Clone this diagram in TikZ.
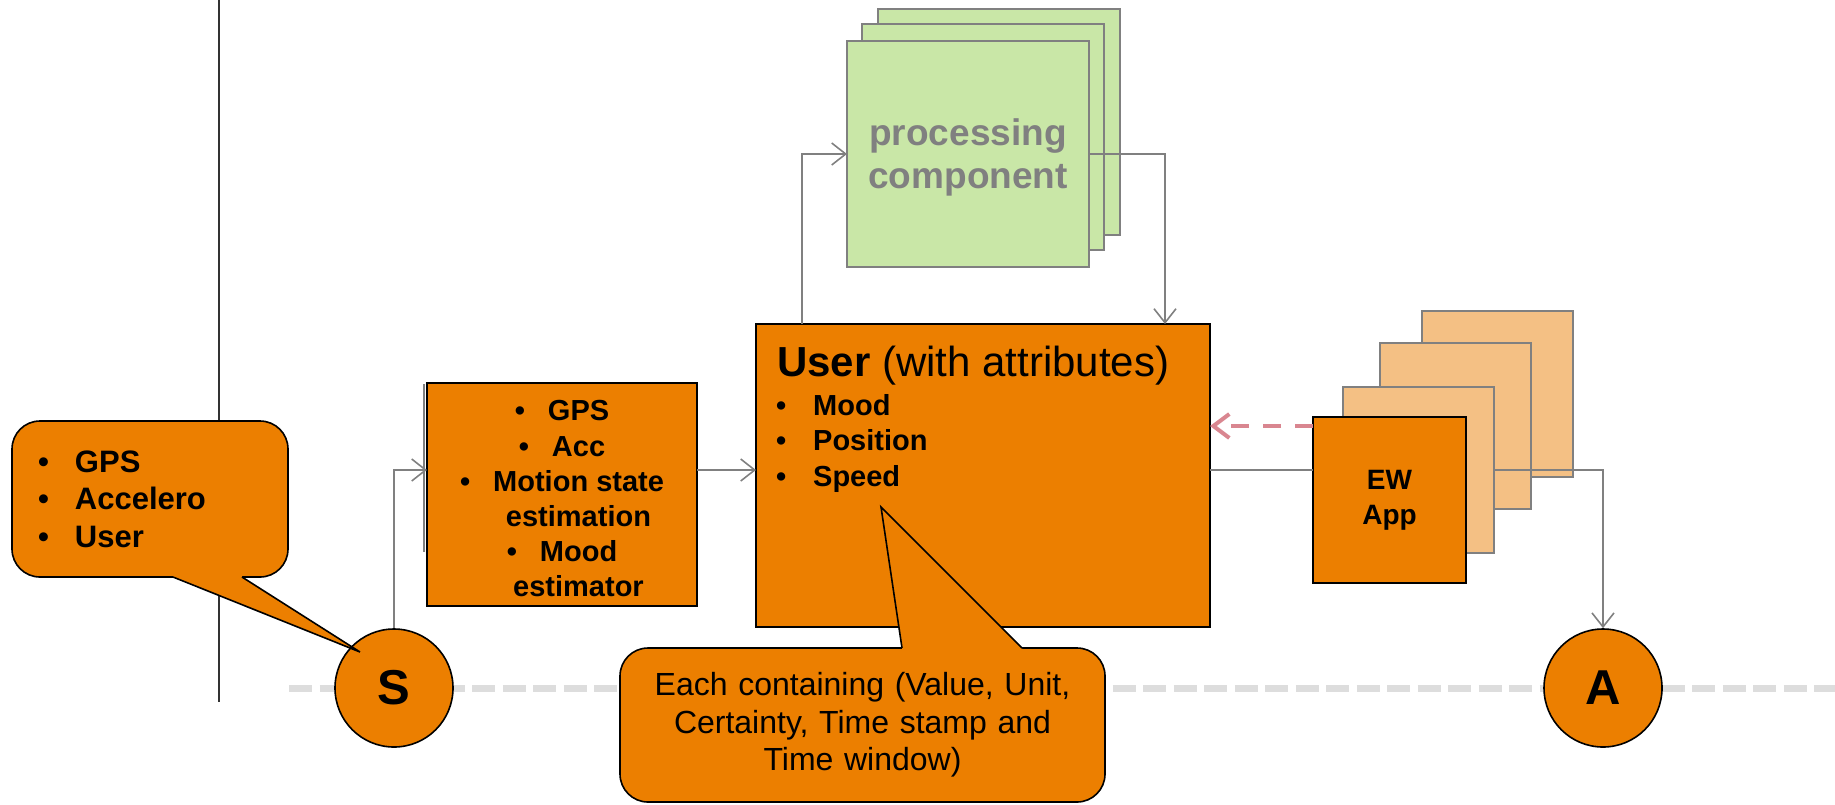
\documentclass[tikz,border=0pt]{standalone}
\usepackage{fontspec}
\setmainfont{Liberation Sans}
\usetikzlibrary{arrows.meta,calc}
\definecolor{org}{RGB}{236,127,0}
\definecolor{lorg}{RGB}{244,192,132}
\definecolor{grn}{RGB}{201,231,167}
\definecolor{gline}{RGB}{128,128,128}
\definecolor{dashg}{RGB}{221,221,221}
\definecolor{pinkc}{RGB}{217,134,144}
\begin{document}
\begin{tikzpicture}[x=1pt,y=-1pt,
  box/.style={draw=black, line width=1.6pt, fill=org, inner sep=0pt, outer sep=0pt},
  stackbox/.style={draw=gline, line width=2pt, fill=lorg, minimum width=151pt, minimum height=166pt, inner sep=0pt, outer sep=0pt},
  procbox/.style={draw=gline, line width=2pt, fill=grn, minimum width=242pt, minimum height=226pt, inner sep=0pt, outer sep=0pt},
  conn/.style={draw=gline, line width=1.6pt, -{Straight Barb[length=14pt,width=22pt,line width=1.6pt]}},
  plainconn/.style={draw=gline, line width=1.6pt},
  pinkarrow/.style={draw=pinkc, line width=4pt, dash pattern=on 18pt off 14pt, -{Straight Barb[length=16pt,width=24pt,line width=4pt]}},
  calloutbox/.style={draw=black, line width=1.6pt, fill=org, rounded corners=28pt, inner sep=0pt},
  endpoint/.style={circle, draw=black, line width=1.6pt, fill=org, minimum size=118pt, inner sep=0pt, font=\bfseries\fontsize{49pt}{49pt}\selectfont}
]
\useasboundingbox (0,0) rectangle (1835,804);

% separators
\draw[line width=1.5pt, draw=black!80] (219,0) -- (219,702);
\draw[dashg, line width=7pt, dash pattern=on 23pt off 7.5pt] (289,688) -- (1835,688);

% processing component stack
\node[procbox] (proc3) at (998.5,121.5) {};
\node[procbox] (proc2) at (983,136.5) {};
\node[procbox] (proc) at (968,154) {};
\node[align=center, inner sep=0pt, text=gline, font=\bfseries\fontsize{37pt}{43pt}\selectfont] (proctext) at (968,157) {processing\\component};

% EW App stack
\node[stackbox] (ew4) at (1497.5,394) {};
\node[stackbox] (ew3) at (1455,426) {};
\node[stackbox] (ew2) at (1418.5,470) {};
\node[box, minimum width=153pt, minimum height=166pt, align=center, font=\bfseries\fontsize{28pt}{35pt}\selectfont] (ew) at (1389.5,500) {EW\\App};

% sensor box
\draw[gline, line width=2pt] (424,384) -- (424,552);
\node[box, minimum width=270pt, minimum height=223pt] (sens) at (562,494.5) {};
\node[align=center, inner sep=0pt, font=\bfseries\fontsize{29pt}{35.2pt}\selectfont] (senstext) at (562,499)
 {•\hspace{23pt}GPS\\
  •\hspace{23pt}Acc\\
  •\hspace{23pt}Motion state\\
  \hspace*{33pt}estimation\\
  •\hspace{23pt}Mood\\
  \hspace*{33pt}estimator};

% user box
\node[box, minimum width=454pt, minimum height=303pt] (user) at (983,475.5) {};
\node[anchor=base west, inner sep=0pt, font=\fontsize{42pt}{50pt}\selectfont] (usertitle) at (777,376) {\textbf{User} (with attributes)};
\node[anchor=north west, inner sep=0pt, align=left, font=\bfseries\fontsize{29pt}{35.5pt}\selectfont] (userlist) at (776,394)
 {\makebox[37pt][l]{•}Mood\\
  \makebox[37pt][l]{•}Position\\
  \makebox[37pt][l]{•}Speed};

% end points
\node[endpoint] (S) at (394,688) {S};
\node[endpoint] (A) at (1603,688) {A};

% connectors
\draw[conn] (S.north) |- (sens.west |- 0,470);
\draw[conn] (sens.east |- 0,470) -- (user.west |- 0,470);
\draw[conn] (user.north -| 802,0) |- (proc.west);
\draw[conn] (proc.east) -| (user.north -| 1165,0);
\draw[plainconn] (user.east |- 0,470) -- (ew.west |- 0,470);
\draw[conn] (ew2.east |- 0,470) -| (A.north);
\draw[pinkarrow] (ew.west |- 0,426) -- (user.east |- 0,426);

% callout 1
\node[calloutbox, minimum width=276pt, minimum height=156pt, text width=224pt, align=left, font=\bfseries\fontsize{31pt}{37.5pt}\selectfont] (c1) at (150,499)
 {\makebox[37pt][l]{•}GPS\\
  \makebox[37pt][l]{•}Accelero\\
  \makebox[37pt][l]{•}User};
\fill[org] (173,573) -- (173,577) -- (360,652) -- (242,577) -- (242,573) -- cycle;
\draw[black, line width=1.6pt, line join=miter] (173,577) -- (360,652) -- (242,577);

% callout 2
\node[calloutbox, minimum width=485pt, minimum height=154pt, text width=470pt, align=center, font=\fontsize{32pt}{37.5pt}\selectfont] (c2) at (862.5,725)
 {Each containing (Value, Unit,\\ Certainty, Time stamp and\\ Time window)};
\fill[org] (902,652) -- (902,648) -- (881,507) -- (1022,648) -- (1022,652) -- cycle;
\draw[black, line width=1.6pt, line join=miter] (902,648) -- (881,507) -- (1022,648);
\end{tikzpicture}
\end{document}
